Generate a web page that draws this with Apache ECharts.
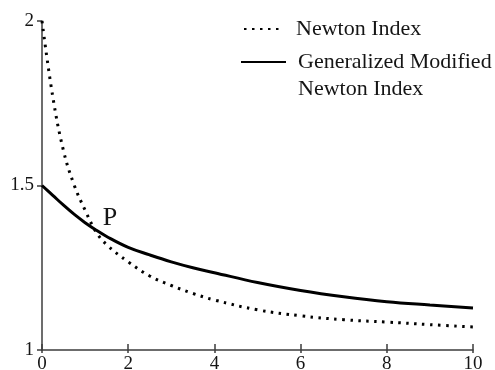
<!DOCTYPE html>
<html>
<head>
<meta charset="utf-8">
<script src="https://cdn.jsdelivr.net/npm/echarts@6/dist/echarts.min.js"></script>
<style>
    html, body { margin: 0; padding: 0; background: #fff; }
    #chart { width: 495px; height: 370px; }
</style>
</head>
<body>
<div id="chart"></div>
<script>
let xData = [0, 0.25, 0.5, 0.75, 1, 1.25, 1.5, 2, 2.5, 3, 3.5, 4, 5, 6, 7, 8, 9, 10];
let newtonIndex = [2.0, 1.77, 1.605, 1.50, 1.425, 1.36, 1.32, 1.268, 1.225, 1.196, 1.172, 1.152, 1.122, 1.104, 1.092, 1.085, 1.077, 1.07];
let genModIndex = [1.5, 1.47, 1.44, 1.412, 1.387, 1.365, 1.345, 1.312, 1.289, 1.268, 1.25, 1.235, 1.205, 1.181, 1.162, 1.147, 1.137, 1.128];
let xTicks = [0, 2, 4, 6, 8, 10];
let yTicks = [1, 1.5, 2];
let seriesNames = ['Newton Index', 'Generalized Modified Newton Index'];
let pointP = [1.58, 1.40];

let font = 'Liberation Serif';
let axisColor = '#3c3c3c';
let textColor = '#151515';

let toPairs = ys => xData.map((x, i) => [x, ys[i]]);

// x 轴刻度：一半在轴线上方，一半在下方，用两个轴叠起来
let xAxisBase = {
    type: 'value',
    min: xTicks[0],
    max: xTicks[xTicks.length - 1],
    interval: xTicks[1] - xTicks[0],
    splitLine: { show: false }
};

let legendText = {
    fontFamily: font,
    fontSize: 22,
    color: textColor
};

let option = {
    animation: false,
    backgroundColor: '#fff',
    grid: {
        left: 42,
        right: 22,
        top: 21,
        bottom: 20,
        containLabel: false,
        outerBoundsMode: 'none'
    },
    legend: [
        {
            data: [seriesNames[0]],
            left: 238,
            top: 13,
            itemWidth: 40,
            itemHeight: 10,
            itemStyle: { opacity: 0 },
            formatter: name => '{t|' + name + '}',
            textStyle: {
                ...legendText,
                rich: { t: { ...legendText, padding: [0, 0, 0, 7] } }
            }
        },
        {
            data: [seriesNames[1]],
            left: 235,
            top: 19,
            itemWidth: 45,
            itemHeight: 10,
            itemStyle: { opacity: 0 },
            // 第一行对齐图例线，前面加一个空行
            formatter: () => '{t|}\n{t|Generalized Modified}\n{t|Newton Index}',
            textStyle: {
                ...legendText,
                rich: { t: { ...legendText, lineHeight: 27, padding: [0, 0, 0, 7] } }
            }
        }
    ],
    xAxis: [
        {
            ...xAxisBase,
            axisLine: { lineStyle: { color: axisColor, width: 1.5 } },
            axisTick: { show: true, inside: false, length: 3, lineStyle: { color: axisColor, width: 1.5 } },
            axisLabel: { fontFamily: font, fontSize: 19, color: textColor, margin: 5 }
        },
        {
            ...xAxisBase,
            position: 'bottom',
            axisLine: { show: false },
            axisTick: { show: true, inside: true, length: 6, lineStyle: { color: axisColor, width: 1.5 } },
            axisLabel: { show: false }
        }
    ],
    yAxis: {
        type: 'value',
        min: yTicks[0],
        max: yTicks[yTicks.length - 1],
        interval: yTicks[1] - yTicks[0],
        splitLine: { show: false },
        axisLine: { show: true, lineStyle: { color: axisColor, width: 1.5 } },
        axisTick: { show: true, length: 5, lineStyle: { color: axisColor, width: 1.5 } },
        axisLabel: { fontFamily: font, fontSize: 19, color: textColor, margin: 8 }
    },
    series: [
        {
            name: seriesNames[0],
            type: 'line',
            data: toPairs(newtonIndex),
            smooth: 0.4,
            showSymbol: false,
            symbol: 'none',
            itemStyle: { color: '#000' },
            lineStyle: { color: '#000', width: 3, type: [2.5, 5.5] }
        },
        {
            name: seriesNames[1],
            type: 'line',
            data: toPairs(genModIndex),
            smooth: 0.4,
            showSymbol: false,
            symbol: 'none',
            itemStyle: { color: '#000' },
            lineStyle: { color: '#000', width: 3, type: 'solid' },
            markPoint: {
                symbol: 'circle',
                symbolSize: 1,
                itemStyle: { color: 'rgba(0,0,0,0)' },
                label: {
                    show: true,
                    position: 'inside',
                    formatter: 'P',
                    fontFamily: font,
                    fontSize: 26,
                    color: textColor
                },
                data: [{ coord: pointP }]
            }
        }
    ]
};

let mychart = echarts.init(document.getElementById('chart'));
mychart.setOption(option);
</script>
</body>
</html>
